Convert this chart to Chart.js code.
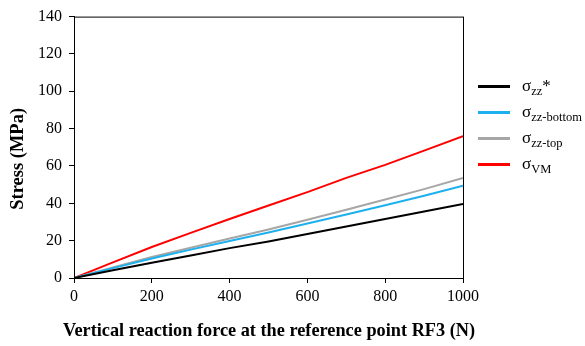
<!DOCTYPE html>
<html>
<head>
<meta charset="utf-8">
<script src="https://cdn.jsdelivr.net/npm/chart.js@4.4.1/dist/chart.umd.min.js"></script>
<style>
  html, body { margin: 0; padding: 0; background: #fff; }
  #wrap { position: relative; width: 585px; height: 346px; }
  #legend { position: absolute; left: 478px; top: 0; font-family: 'Liberation Serif', 'Times New Roman', serif; }
  .item { position: absolute; left: 0; height: 20px; white-space: nowrap; }
  .item .swatch { position: absolute; left: 0; top: 9px; width: 32px; height: 3px; }
  .item .txt { position: absolute; left: 44px; top: 0; font-size: 17px; line-height: 20px; color: #000; }
  .item sub { font-size: 12.5px; vertical-align: -4px; }
  #xTitle { position: absolute; left: 0; width: 538px; top: 319px; text-align: center;
            font-family: 'Liberation Serif', 'Times New Roman', serif; font-size: 18.3px; font-weight: bold;
            line-height: 22px; color: #000; white-space: nowrap; }
</style>
</head>
<body>
<div id="wrap">
  <canvas id="stressChart" width="585" height="346"></canvas>
  <div id="legend"></div>
  <div id="xTitle"></div>
</div>
<script>
// 데이터
const forceValues = [0, 100, 200, 300, 400, 500, 600, 700, 800, 900, 1000];
const szzData = [0, 4.2, 8.2, 12.0, 16.0, 19.6, 23.6, 27.6, 31.6, 35.6, 39.6];
const szzBottomData = [0, 5.3, 10.4, 15.2, 19.8, 24.4, 29.2, 34.0, 39.0, 44.0, 49.4];
const szzTopData = [0, 5.7, 11.2, 16.2, 21.2, 26.0, 31.2, 36.6, 42.0, 47.6, 53.6];
const svmData = [0, 8.4, 16.6, 24.2, 31.6, 38.8, 46.0, 53.6, 60.6, 68.2, 76.0];
const yTicks = [0, 20, 40, 60, 80, 100, 120, 140];
const xTicks = [0, 200, 400, 600, 800, 1000];

const xTitleText = 'Vertical reaction force at the reference point RF3 (N)';
const yTitleText = 'Stress (MPa)';

const seriesNames = [
    ['σ', 'zz', '*'],
    ['σ', 'zz-bottom', ''],
    ['σ', 'zz-top', ''],
    ['σ', 'VM', '']
];
const seriesColors = ['#000000', '#1cb0ef', '#a6a6a6', '#ff0000'];

const serif = "'Liberation Serif', 'Times New Roman', serif";

function toPoints(ys) {
    return forceValues.map((x, i) => ({ x: x, y: ys[i] }));
}

// 외곽 프레임
const framePlugin = {
    id: 'frame',
    afterDraw(chart) {
        const a = chart.chartArea;
        const ctx = chart.ctx;
        ctx.save();
        ctx.strokeStyle = '#000';
        ctx.lineWidth = 1;
        ctx.strokeRect(a.left + 0.5, a.top + 0.5, a.right - a.left, a.bottom - a.top);
        ctx.restore();
    }
};

const allData = [szzData, szzBottomData, szzTopData, svmData];

new Chart(document.getElementById('stressChart'), {
    type: 'line',
    data: {
        datasets: allData.map((d, i) => ({
            label: seriesNames[i].join(''),
            data: toPoints(d),
            borderColor: seriesColors[i],
            borderWidth: 2,
            pointRadius: 0,
            fill: false,
            tension: 0
        }))
    },
    options: {
        responsive: false,
        animation: false,
        layout: { padding: { top: 14, right: 122, left: 0, bottom: 0 } },
        plugins: {
            legend: { display: false },
            tooltip: { enabled: false }
        },
        scales: {
            x: {
                type: 'linear',
                min: 0,
                max: 1000,
                afterBuildTicks(scale) { scale.ticks = xTicks.map(v => ({ value: v })); },
                afterFit(scale) { scale.height = 68; },
                grid: { drawOnChartArea: false, tickLength: 5, color: '#000' },
                border: { color: '#000', width: 1 },
                ticks: {
                    color: '#000',
                    font: { family: serif, size: 16 },
                    padding: 4,
                    maxRotation: 0,
                    callback: v => String(v)
                },
                title: { display: false }
            },
            y: {
                min: 0,
                max: 140,
                afterBuildTicks(scale) { scale.ticks = yTicks.map(v => ({ value: v })); },
                afterFit(scale) { scale.width = 74; },
                grid: { drawOnChartArea: false, tickLength: 5, color: '#000' },
                border: { color: '#000', width: 1 },
                ticks: { color: '#000', font: { family: serif, size: 16 }, padding: 7, callback: v => String(v) },
                title: {
                    display: true,
                    text: yTitleText + '\u00a0\u00a0\u00a0\u00a0\u00a0',
                    color: '#000',
                    font: { family: serif, size: 18.5, weight: 'bold' },
                    padding: { top: 7, bottom: 0 }
                }
            }
        }
    },
    plugins: [framePlugin]
});

// x축 제목 (캔버스 폭 제한 없이)
document.getElementById('xTitle').textContent = xTitleText;

// 범례 (아래첨자 포함)
const legendBox = document.getElementById('legend');
const legendTops = [76, 102, 128, 154];
seriesNames.forEach((parts, i) => {
    const item = document.createElement('div');
    item.className = 'item';
    item.style.top = legendTops[i] + 'px';
    item.innerHTML = '<div class="swatch" style="background:' + seriesColors[i] + '"></div>' +
        '<div class="txt">' + parts[0] + '<sub>' + parts[1] + '</sub>' + parts[2] + '</div>';
    legendBox.appendChild(item);
});
</script>
</body>
</html>
